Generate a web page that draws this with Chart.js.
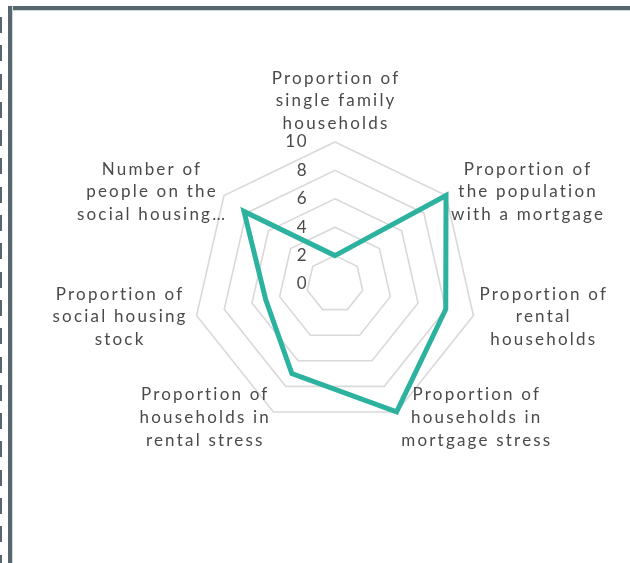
<!DOCTYPE html>
<html>
<head>
<meta charset="utf-8">
<script src="https://cdn.jsdelivr.net/npm/chart.js@4.4.1/dist/chart.umd.min.js"></script>
<style>
  html, body { margin: 0; padding: 0; background: #ffffff; overflow: hidden; }
  #wrap { position: absolute; left: 0; top: 0; width: 630px; height: 563px; }
  .bar { position: absolute; background: #57676f; pointer-events: none; }
  #topbar { left: 8px; top: 6px; width: 622px; height: 4px; border-bottom: 1px solid #d3d7da; }
  #leftbar { left: 8px; top: 6px; width: 4px; height: 557px; border-right: 1px solid #d3d7da; }
  #dashes { position: absolute; left: 0; top: 17px; width: 2px; height: 546px; pointer-events: none;
    background: repeating-linear-gradient(to bottom, #57676f 0px, #57676f 16px, transparent 16px, transparent 28.3px); }
</style>
</head>
<body>
<div id="wrap"><canvas id="c"></canvas></div>
<div id="dashes"></div>
<div id="topbar" class="bar"></div>
<div id="leftbar" class="bar"></div>
<script>
// ---- data ----
const categories = [
  ["Proportion of", "single family", "households"],
  ["Proportion of", "the population", "with a mortgage"],
  ["Proportion of", "rental", "households"],
  ["Proportion of", "households in", "mortgage stress"],
  ["Proportion of", "households in", "rental stress"],
  ["Proportion of", "social housing", "stock"],
  ["Number of", "people on the", "social housing\u2026"]
];
const seriesValues = [2, 10, 8, 10, 7, 5, 8.2];
const tickValues = [0, 2, 4, 6, 8, 10];

const FONT_FAMILY = "Lato, 'Open Sans', sans-serif";
const TEXT_COLOR = "#4a4a4a";
const FONT = "400 17px " + FONT_FAMILY;
const SPACING = 2.2;

const labelPlugin = {
  id: 'customLabels',
  beforeDatasetsDraw(chart) {
    const s = chart.scales.r;
    const ctx = chart.ctx;
    ctx.save();
    ctx.fillStyle = TEXT_COLOR;
    ctx.font = FONT;
    if ('letterSpacing' in ctx) ctx.letterSpacing = '1.5px';
    ctx.textAlign = 'right';
    ctx.textBaseline = 'middle';
    tickValues.forEach(v => {
      const d = s.getDistanceFromCenterForValue(v);
      ctx.fillText(String(v), s.xCenter - 27, s.yCenter - d);
    });
    ctx.restore();
  },
  afterDraw(chart) {
    const s = chart.scales.r;
    const ctx = chart.ctx;
    const R = s.drawingArea;
    const lh = 22.7;
    ctx.save();
    ctx.fillStyle = TEXT_COLOR;
    ctx.font = FONT;
    const hasLS = ('letterSpacing' in ctx);
    if (hasLS) ctx.letterSpacing = SPACING + 'px';
    ctx.textAlign = 'center';
    ctx.textBaseline = 'middle';
    chart.data.labels.forEach((lines, i) => {
      const p = s.getPointPosition(i, R);
      const dx = (p.x - s.xCenter) / R;
      const dy = (p.y - s.yCenter) / R;
      const maxW = Math.max(...lines.map(l => ctx.measureText(l).width));
      let cx, midY;
      const n = lines.length;
      if (Math.abs(dx) < 0.05) {
        cx = p.x;
        if (dy < 0) {
          midY = p.y - 7 - lh / 2 - (n - 1) / 2 * lh;
        } else {
          midY = p.y + 7 + lh / 2 + (n - 1) / 2 * lh;
        }
      } else {
        let pad;
        if (dy < -0.3) pad = dx > 0 ? 4 : -2;
        else if (dy > 0.3) pad = 3.5;
        else pad = dx > 0 ? 5 : 10;
        cx = p.x + Math.sign(dx) * (pad + maxW / 2);
        midY = p.y + 6 * dy;
      }
      lines.forEach((l, k) => {
        ctx.fillText(l, cx + (hasLS ? SPACING / 2 : 0), midY + (k - (n - 1) / 2) * lh);
      });
    });
    ctx.restore();
  }
};

new Chart(document.getElementById('c'), {
  type: 'radar',
  data: {
    labels: categories,
    datasets: [{
      data: seriesValues,
      borderColor: '#2cb29e',
      borderWidth: 5,
      fill: false,
      backgroundColor: 'rgba(0,0,0,0)',
      pointRadius: 0,
      pointHoverRadius: 0,
      borderJoinStyle: 'miter',
      tension: 0
    }]
  },
  options: {
    responsive: true,
    maintainAspectRatio: false,
    animation: false,
    layout: { padding: { left: 40, right: 0, top: 142, bottom: 137 } },
    plugins: { legend: { display: false }, tooltip: { enabled: false } },
    scales: {
      r: {
        min: 0,
        max: 10,
        ticks: { display: false, stepSize: 2 },
        pointLabels: { display: false },
        angleLines: { display: false },
        grid: { color: '#d9d9d9', lineWidth: 1.6 }
      }
    }
  },
  plugins: [labelPlugin]
});
</script>
</body>
</html>
